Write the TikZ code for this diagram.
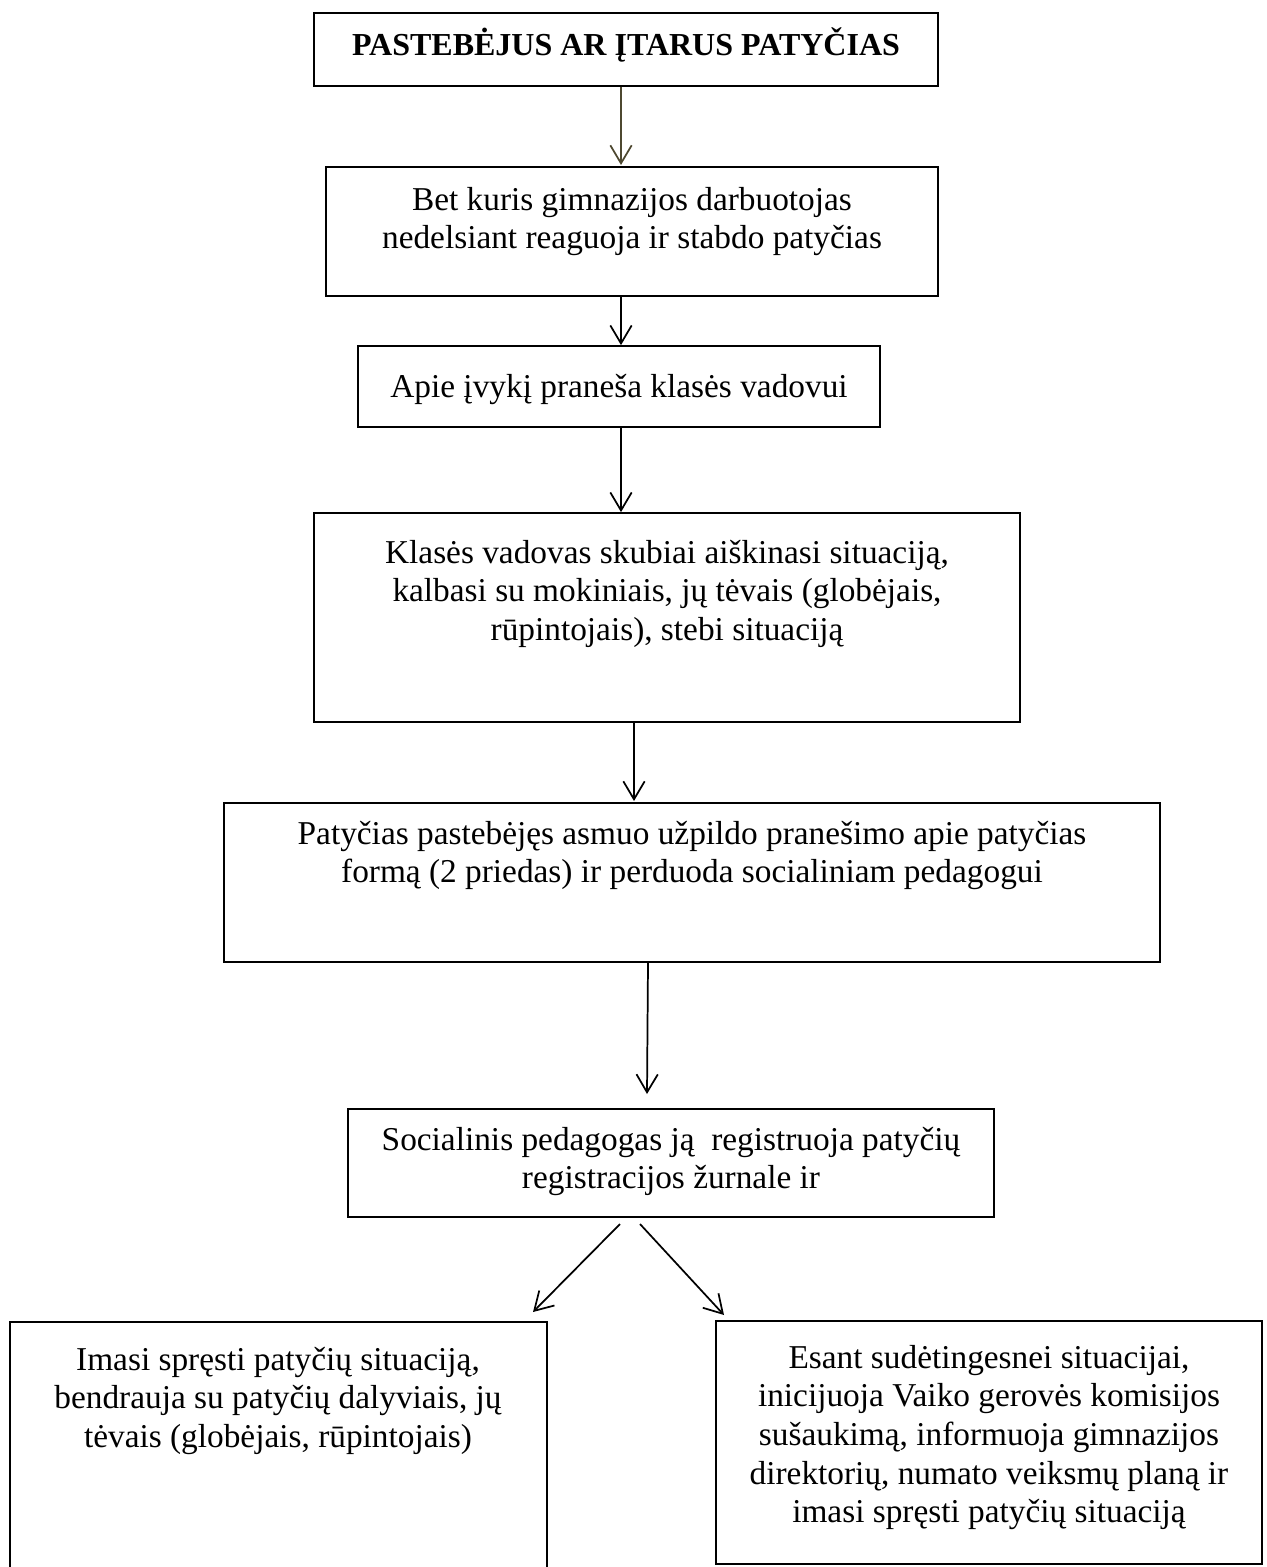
\documentclass[tikz,border=0pt]{standalone}
\usepackage{fontspec}
\setmainfont{Liberation Serif}
\usetikzlibrary{arrows.meta,fit}
\definecolor{olivearrow}{RGB}{78,72,48}
\newcommand\fstrut{\rule{0pt}{24pt}}
\begin{document}
\begin{tikzpicture}[x=0.75pt,y=-0.75pt,
  box/.style={draw=black,line width=1.3pt,inner sep=0pt},
  txt/.style={align=center,inner sep=0pt,anchor=north,font=\fontsize{25}{29}\selectfont},
  conn/.style={line width=1.3pt,-{Straight Barb[length=13.5pt,width=16pt,line width=1.3pt]}}]
\useasboundingbox[fill=white] (0,0) rectangle (1267,1567);
% boxes
\node[box,fit={(314,13) (938,86)}] (b1) {};
\node[box,fit={(326,167) (938,296)}] (b2) {};
\node[box,fit={(358,346) (880,427)}] (b3) {};
\node[box,fit={(314,513) (1020,722)}] (b4) {};
\node[box,fit={(224,803) (1160,962)}] (b5) {};
\node[box,fit={(348,1109) (994,1217)}] (b6) {};
\node[box,fit={(716,1321) (1262,1564)}] (b8) {};
\coordinate (b7tl) at (10,1322);
\coordinate (b7tr) at (547,1322);
\coordinate (b7bl) at (10,1570);
\coordinate (b7br) at (547,1570);
\draw[line width=1.3pt] (b7bl) -- (b7tl) -- (b7tr) -- (b7br);
% texts
\node[txt,font=\fontsize{24}{29}\selectfont] (t1) at (626,55-32) {\fstrut\textbf{PASTEBĖJUS AR ĮTARUS PATYČIAS}};
\node[txt] (t2) at (632,210-32) {\fstrut Bet kuris gimnazijos darbuotojas\\ nedelsiant reaguoja ir stabdo patyčias};
\node[txt] (t3) at (619,397-32) {\fstrut Apie įvykį praneša klasės vadovui};
\node[txt] (t4) at (667,563-32) {\fstrut Klasės vadovas skubiai aiškinasi situaciją,\\ kalbasi su mokiniais, jų tėvais (globėjais,\\ rūpintojais), stebi situaciją};
\node[txt] (t5) at (692,844-32) {\fstrut Patyčias pastebėjęs asmuo užpildo pranešimo apie patyčias\\ formą (2 priedas) ir perduoda socialiniam pedagogui};
\node[txt] (t6) at (671,1150-32) {\fstrut Socialinis pedagogas ją\ \ registruoja patyčių\\ registracijos žurnale ir};
\node[txt] (t7) at (278,1370-32) {\fstrut Imasi spręsti patyčių situaciją,\\ bendrauja su patyčių dalyviais, jų\\ tėvais (globėjais, rūpintojais)};
\node[txt] (t8) at (989,1368-32) {\fstrut Esant sudėtingesnei situacijai,\\ inicijuoja Vaiko gerovės komisijos\\ sušaukimą, informuoja gimnazijos\\ direktorių, numato veiksmų planą ir\\ imasi spręsti patyčių situaciją};
% connectors
\coordinate (a1s) at (621,86);  \coordinate (a1e) at (621,165);
\draw[conn,draw=olivearrow] (b1.south -| a1s) -- (a1e);
\coordinate (a2s) at (621,296); \coordinate (a2e) at (621,345);
\draw[conn] (b2.south -| a2s) -- (b3.north -| a2e);
\coordinate (a3s) at (621,427); \coordinate (a3e) at (621,512);
\draw[conn] (b3.south -| a3s) -- (b4.north -| a3e);
\coordinate (a4s) at (634,722); \coordinate (a4e) at (634,801);
\draw[conn] (b4.south -| a4s) -- (a4e);
\coordinate (a5s) at (648,962); \coordinate (a5e) at (647,1094);
\draw[conn] (b5.south -| a5s) -- (a5e);
\coordinate (a6s) at (620,1224); \coordinate (a6e) at (533,1312);
\draw[conn] (a6s) -- (a6e);
\coordinate (a7s) at (640,1224); \coordinate (a7e) at (724,1315);
\draw[conn] (a7s) -- (a7e);
\end{tikzpicture}
\end{document}
